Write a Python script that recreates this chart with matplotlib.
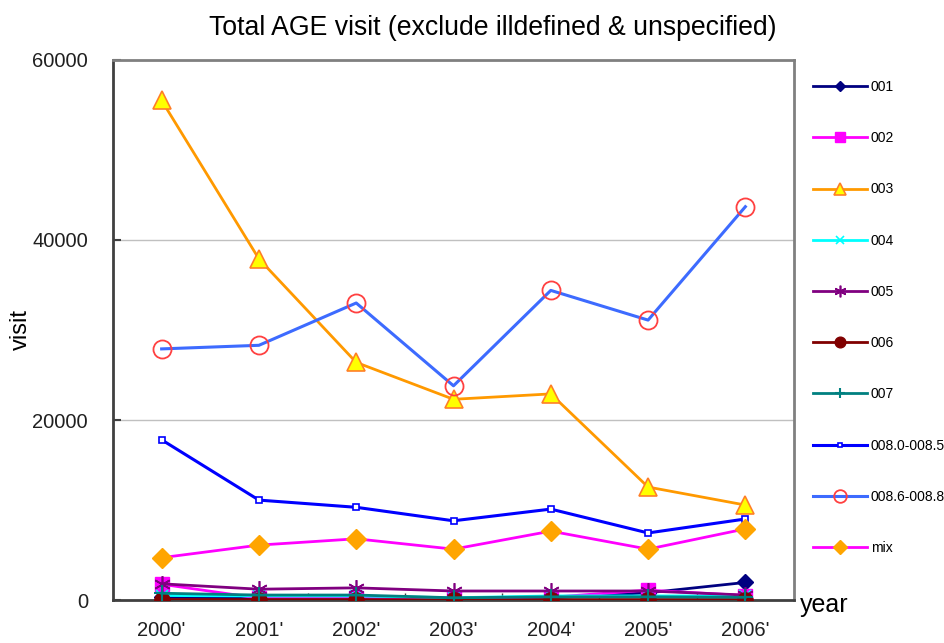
import matplotlib
matplotlib.use("Agg")
import matplotlib.pyplot as plt

plt.rcParams['font.family'] = ['Liberation Sans', 'DejaVu Sans']

# data
years = ["2000'", "2001'", "2002'", "2003'", "2004'", "2005'", "2006'"]
v001 = [300, 250, 250, 150, 250, 800, 1950]
v002 = [1750, 200, 200, 200, 300, 1100, 500]
v003 = [55500, 37900, 26400, 22300, 22900, 12550, 10550]
v004 = [500, 450, 450, 250, 450, 450, 450]
v005 = [1800, 1200, 1350, 1000, 1000, 1000, 550]
v006 = [50, 50, 50, 0, 50, 50, 50]
v007 = [750, 550, 550, 250, 350, 350, 300]
v008a = [17800, 11100, 10300, 8800, 10100, 7450, 9000]
v008b = [27900, 28300, 33000, 23800, 34400, 31100, 43700]
vmix = [4700, 6100, 6800, 5650, 7650, 5650, 7900]

fig = plt.figure(figsize=(9.44, 6.43), dpi=100)
ax = fig.add_axes([113 / 944, 1 - 600 / 643, 681 / 944, 540 / 643])

x = list(range(len(years)))

ax.plot(x, v001, color='#000080', lw=2, marker='D', ms=8, mfc='#000080',
        mec='#000080', label='001', zorder=3)
ax.plot(x, v002, color='#FF00FF', lw=2, marker='s', ms=10, mfc='#FF00FF',
        mec='#FF00FF', label='002', zorder=3)
ax.plot(x, v003, color='#FF9900', lw=2, marker='^', ms=13, mfc='#FFFF00',
        mec='#FF7F27', mew=1.2, label='003', zorder=3)
ax.plot(x, v004, color='#00FFFF', lw=2, marker='x', ms=9, mec='#00FFFF',
        mew=1.2, label='004', zorder=3)
ax.plot(x, v005, color='#800080', lw=2, marker=(6, 2, 0), ms=12,
        mec='#800080', mew=1.2, label='005', zorder=3)
ax.plot(x, v006, color='#800000', lw=2, marker='o', ms=11, mfc='#800000',
        mec='#800000', label='006', zorder=3)
ax.plot(x, v007, color='#008080', lw=2, marker='+', ms=11, mec='#008080',
        mew=1.5, label='007', zorder=3)
ax.plot(x, v008a, color='#0000FF', lw=2.2, marker='s', ms=4, mfc='white',
        mec='#0000FF', mew=1.2, label='008.0-008.5', zorder=3)
ax.plot(x, v008b, color='#3D6BFF', lw=2.2, marker='o', ms=13, mfc='none',
        mec='#FF4040', mew=1.3, label='008.6-008.8', zorder=3)
ax.plot(x, vmix, color='#FF00FF', lw=2, marker='D', ms=10, mfc='#FFA500',
        mec='#FFA500', label='mix', zorder=3)

ax.set_xlim(-0.5, len(years) - 0.5)
ax.set_ylim(0, 60000)
ax.set_yticks([0, 20000, 40000, 60000])
ax.set_xticks(x)
ax.set_xticklabels(years)
ax.set_xticks([i + 0.5 for i in range(len(years) - 1)], minor=True)
ax.yaxis.grid(True, color='#c0c0c0', lw=1)
ax.set_axisbelow(True)

ax.tick_params(axis='y', direction='in', length=6, width=1.5, color='#404040',
               labelsize=14.5, pad=18, labelcolor='#202020')
ax.tick_params(axis='x', which='major', length=0, labelsize=14.5, pad=15,
               labelcolor='#202020')
ax.tick_params(axis='x', which='minor', direction='in', length=5, width=1,
               color='#404040')

for side in ('left', 'bottom'):
    ax.spines[side].set_color('#404040')
    ax.spines[side].set_linewidth(2)
for side in ('top', 'right'):
    ax.spines[side].set_color('#808080')
    ax.spines[side].set_linewidth(2)

fig.text(21 / 944, 1 - 330 / 643, 'visit', fontsize=17, rotation=90,
         ha='center', va='center')
ax.text(1.008, -0.01, 'year', transform=ax.transAxes, fontsize=18,
        ha='left', va='center')
fig.text(0.522, 1 - 28 / 643, 'Total AGE visit (exclude illdefined & unspecified)',
         fontsize=19.2, ha='center', va='center')

ax.legend(loc='upper left', bbox_to_anchor=(813 / 944, 1 - 80 / 643),
          bbox_transform=fig.transFigure, frameon=False, fontsize=10,
          handlelength=3.9, handletextpad=0.25, labelspacing=2.68,
          borderaxespad=0, borderpad=0, markerscale=0.7)

fig.savefig('out.png', dpi=100)
